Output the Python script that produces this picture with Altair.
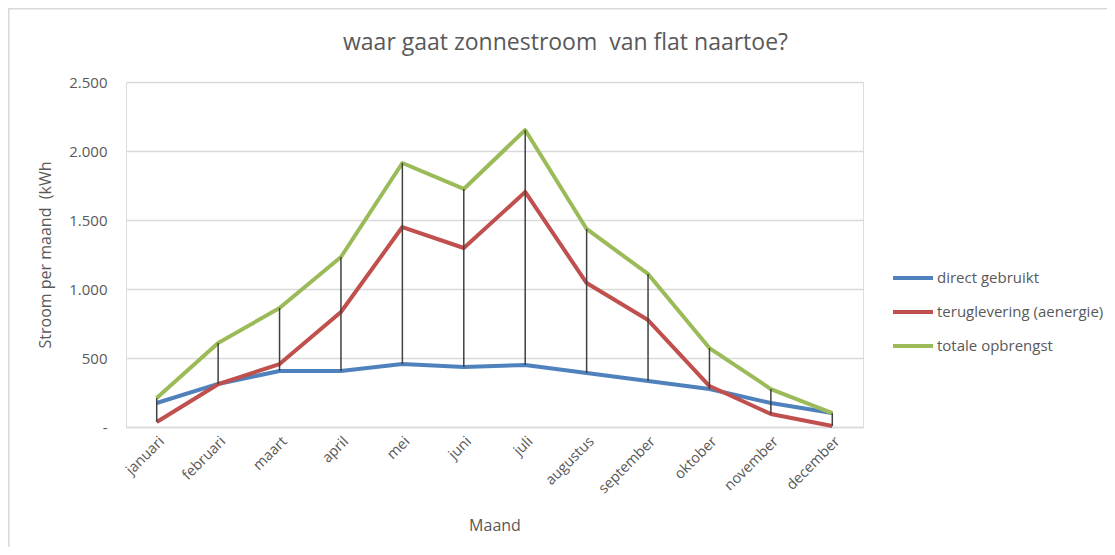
import altair as alt
import pandas as pd

months = ["januari", "februari", "maart", "april", "mei", "juni", "juli",
          "augustus", "september", "oktober", "november", "december"]
direct = [174, 312, 406, 406, 456, 435, 449, 391, 333, 275, 174, 101]
terug = [36, 310, 456, 833, 1449, 1297, 1703, 1043, 775, 297, 94, 7]
totale = [210, 609, 862, 1232, 1913, 1725, 2152, 1435, 1109, 572, 275, 101]
series = ["direct gebruikt", "teruglevering (aenergie)", "totale opbrengst"]
colors = ["#4F81BD", "#C0504D", "#9BBB59"]
y_ticks = [0, 500, 1000, 1500, 2000, 2500]

FONT = "Open Sans"
TXT = "#595959"
GRID = "#d9d9d9"
W, H = 737, 345

wide = pd.DataFrame({"Maand": months, series[0]: direct, series[1]: terug, series[2]: totale})
long = wide.melt("Maand", var_name="reeks", value_name="kWh")
wide["lo"] = wide[series].min(axis=1)
wide["hi"] = wide[series].max(axis=1)

xscale = alt.Scale(type="point", padding=0.5, domain=months)
yscale = alt.Scale(domain=[0, 2500], nice=False)

x_axis = alt.Axis(
    labelAngle=-45, labelAlign="right", labelBaseline="top", labelPadding=7,
    labelFontSize=14.5, labelColor=TXT, labelFont=FONT,
    domainColor=GRID, domainWidth=1.5, ticks=False, grid=False,
    title="Maand", titleFontSize=16, titleColor=TXT, titleFont=FONT,
    titleFontWeight="normal", titleY=98, titleBaseline="middle",
)
y_axis = alt.Axis(
    values=y_ticks,
    labelExpr="datum.value == 0 ? '-' : replace(format(datum.value, ','), ',', '.')",
    labelFontSize=15, labelColor=TXT, labelFont=FONT, labelPadding=19,
    grid=True, gridColor=GRID, gridWidth=1.5, domain=False, ticks=False,
    title="Stroom per maand\u00a0 (kWh", titleFontSize=16, titleColor=TXT, titleFont=FONT,
    titleFontWeight="normal", titleAngle=-90, titleX=-81, titleY=H / 2,
    titleAlign="center", titleBaseline="middle",
)

lines = alt.Chart(long).mark_line(strokeWidth=4, strokeJoin="round").encode(
    x=alt.X("Maand:N", scale=xscale, axis=x_axis),
    y=alt.Y("kWh:Q", scale=yscale, axis=y_axis),
    color=alt.Color(
        "reeks:N", scale=alt.Scale(domain=series, range=colors),
        legend=alt.Legend(
            orient="none", legendX=765, legendY=174, title=None,
            symbolType="stroke", symbolSize=1600, symbolStrokeWidth=4,
            labelFontSize=15, labelColor=TXT, labelFont=FONT, labelOffset=2,
            labelLimit=300, rowPadding=4,
        ),
    ),
    order=alt.Order("reeks:N"),
)

drops = alt.Chart(wide).mark_rule(color="#404040", strokeWidth=1.5).encode(
    x=alt.X("Maand:N", scale=xscale),
    y=alt.Y("lo:Q", scale=yscale),
    y2="hi:Q",
)

frame_data = pd.DataFrame({"k": [0]})
top_border = alt.Chart(frame_data).mark_rule(color=GRID, strokeWidth=1.5).encode(
    x=alt.value(-118), x2=alt.value(1000), y=alt.value(-73.25)
)
left_border = alt.Chart(frame_data).mark_rule(color=GRID, strokeWidth=1.5).encode(
    x=alt.value(-117.25), y=alt.value(-74), y2=alt.value(470)
)

chart = alt.layer(top_border, left_border, lines, drops).properties(
    width=W, height=H,
    title=alt.TitleParams(
        "waar gaat zonnestroom\u00a0 van flat naartoe?", fontSize=23, color=TXT,
        font=FONT, fontWeight="normal", anchor="middle", dx=71, offset=-66,
        frame="group", baseline="alphabetic",
    ),
    autosize=alt.AutoSizeParams(type="none"),
    padding={"left": 118, "top": 74, "right": 244, "bottom": 120},
).configure_view(stroke=None).configure(background="white")

chart.save("out.html", embed_options={"renderer": "svg", "actions": False})
